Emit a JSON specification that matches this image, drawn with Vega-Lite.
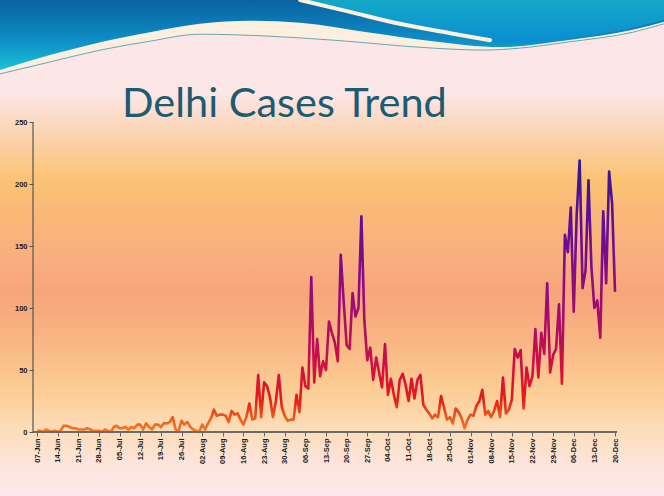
{
  "$schema": "https://vega.github.io/schema/vega-lite/v6.json",
  "width": 664,
  "height": 496,
  "autosize": "none",
  "padding": 0,
  "background": "#fde6ea",
  "config": {
    "view": {
      "stroke": null,
      "fill": {
        "gradient": "linear", "x1": 0, "y1": 0, "x2": 0, "y2": 1,
        "stops": [
          {"offset": 0, "color": "#fde6ea"},
          {"offset": 0.19, "color": "#fce6e6"},
          {"offset": 0.26, "color": "#fbd6b8"},
          {"offset": 0.36, "color": "#fbc374"},
          {"offset": 0.43, "color": "#fab878"},
          {"offset": 0.53, "color": "#f9ad80"},
          {"offset": 0.59, "color": "#f7a57a"},
          {"offset": 0.69, "color": "#f9b684"},
          {"offset": 0.79, "color": "#fcce96"},
          {"offset": 0.86, "color": "#fcdcb6"},
          {"offset": 0.93, "color": "#fde4da"},
          {"offset": 1, "color": "#fde8ee"}
        ]
      }
    },
    "axis": {"labelOverlap": false}
  },
  "title": {
    "text": "Delhi Cases Trend",
    "anchor": "start",
    "frame": "group",
    "orient": "top",
    "offset": 0,
    "dx": 122,
    "dy": 166,
    "baseline": "alphabetic",
    "font": "Lato",
    "fontSize": 41.5,
    "fontWeight": "normal",
    "color": "#1b5c73"
  },
  "datasets": {
    "wave": [
      {"part": "C", "sx": 0, "sy": 14.9},
      {"part": "C", "sx": 7.5, "sy": 12.5},
      {"part": "C", "sx": 15.1, "sy": 10.1},
      {"part": "C", "sx": 22.6, "sy": 8.3},
      {"part": "C", "sx": 30.1, "sy": 6.9},
      {"part": "C", "sx": 40.7, "sy": 7.3},
      {"part": "C", "sx": 50.2, "sy": 8.1},
      {"part": "C", "sx": 65.2, "sy": 9.7},
      {"part": "C", "sx": 72.7, "sy": 10.1},
      {"part": "C", "sx": 78.3, "sy": 9.7},
      {"part": "C", "sx": 85.4, "sy": 8.5},
      {"part": "C", "sx": 95.3, "sy": 6.5},
      {"part": "C", "sx": 100, "sy": 4.8},
      {"part": "L", "sx": 0, "sy": 14.1},
      {"part": "L", "sx": 7.5, "sy": 11.1},
      {"part": "L", "sx": 15.1, "sy": 8.5},
      {"part": "L", "sx": 22.6, "sy": 6.5},
      {"part": "L", "sx": 30.1, "sy": 4.8},
      {"part": "L", "sx": 37.7, "sy": 4.2},
      {"part": "L", "sx": 45.2, "sy": 4.6},
      {"part": "L", "sx": 55.3, "sy": 6.5},
      {"part": "L", "sx": 65.2, "sy": 8.3},
      {"part": "L", "sx": 75.3, "sy": 9.5},
      {"part": "L", "sx": 85.4, "sy": 8.1},
      {"part": "L", "sx": 95.3, "sy": 6.0},
      {"part": "L", "sx": 100, "sy": 4.4},
      {"part": "R", "sx": 45.2, "sy": 0},
      {"part": "R", "sx": 52.7, "sy": 2.4},
      {"part": "R", "sx": 60.2, "sy": 4.8},
      {"part": "R", "sx": 67.8, "sy": 6.7},
      {"part": "R", "sx": 73.8, "sy": 8.1},
      {"part": "R", "sx": 79.8, "sy": 8.5},
      {"part": "R", "sx": 85.4, "sy": 7.7},
      {"part": "R", "sx": 95.3, "sy": 5.6},
      {"part": "R", "sx": 100, "sy": 4.0},
      {"part": "S", "sx": 45.2, "sy": 0},
      {"part": "S", "sx": 52.7, "sy": 2.4},
      {"part": "S", "sx": 60.2, "sy": 4.8},
      {"part": "S", "sx": 67.8, "sy": 6.7},
      {"part": "S", "sx": 73.8, "sy": 8.1}
    ],
    "cases": [
      {"date": "2020-06-07", "cases": 1}, {"date": "2020-06-08", "cases": 1}, {"date": "2020-06-09", "cases": 0},
      {"date": "2020-06-10", "cases": 2}, {"date": "2020-06-11", "cases": 1}, {"date": "2020-06-12", "cases": 0},
      {"date": "2020-06-13", "cases": 1}, {"date": "2020-06-14", "cases": 0}, {"date": "2020-06-15", "cases": 1},
      {"date": "2020-06-16", "cases": 5}, {"date": "2020-06-17", "cases": 5}, {"date": "2020-06-18", "cases": 4},
      {"date": "2020-06-19", "cases": 3}, {"date": "2020-06-20", "cases": 3}, {"date": "2020-06-21", "cases": 2},
      {"date": "2020-06-22", "cases": 2}, {"date": "2020-06-23", "cases": 2}, {"date": "2020-06-24", "cases": 3},
      {"date": "2020-06-25", "cases": 2}, {"date": "2020-06-26", "cases": 1}, {"date": "2020-06-27", "cases": 1},
      {"date": "2020-06-28", "cases": 1}, {"date": "2020-06-29", "cases": 0}, {"date": "2020-06-30", "cases": 2},
      {"date": "2020-07-01", "cases": 1}, {"date": "2020-07-02", "cases": 0}, {"date": "2020-07-03", "cases": 4},
      {"date": "2020-07-04", "cases": 5}, {"date": "2020-07-05", "cases": 3}, {"date": "2020-07-06", "cases": 3},
      {"date": "2020-07-07", "cases": 4}, {"date": "2020-07-08", "cases": 2}, {"date": "2020-07-09", "cases": 4},
      {"date": "2020-07-10", "cases": 3}, {"date": "2020-07-11", "cases": 6}, {"date": "2020-07-12", "cases": 6},
      {"date": "2020-07-13", "cases": 2}, {"date": "2020-07-14", "cases": 7}, {"date": "2020-07-15", "cases": 4},
      {"date": "2020-07-16", "cases": 2}, {"date": "2020-07-17", "cases": 6}, {"date": "2020-07-18", "cases": 6},
      {"date": "2020-07-19", "cases": 4}, {"date": "2020-07-20", "cases": 7}, {"date": "2020-07-21", "cases": 7},
      {"date": "2020-07-22", "cases": 8}, {"date": "2020-07-23", "cases": 12}, {"date": "2020-07-24", "cases": 2},
      {"date": "2020-07-25", "cases": 1}, {"date": "2020-07-26", "cases": 9}, {"date": "2020-07-27", "cases": 6},
      {"date": "2020-07-28", "cases": 8}, {"date": "2020-07-29", "cases": 4}, {"date": "2020-07-30", "cases": 2},
      {"date": "2020-07-31", "cases": 1},
      {"date": "2020-08-01", "cases": 0}, {"date": "2020-08-02", "cases": 6}, {"date": "2020-08-03", "cases": 2},
      {"date": "2020-08-04", "cases": 7}, {"date": "2020-08-05", "cases": 11}, {"date": "2020-08-06", "cases": 18},
      {"date": "2020-08-07", "cases": 13}, {"date": "2020-08-08", "cases": 14}, {"date": "2020-08-09", "cases": 14},
      {"date": "2020-08-10", "cases": 13}, {"date": "2020-08-11", "cases": 8}, {"date": "2020-08-12", "cases": 17},
      {"date": "2020-08-13", "cases": 14}, {"date": "2020-08-14", "cases": 15}, {"date": "2020-08-15", "cases": 10},
      {"date": "2020-08-16", "cases": 6}, {"date": "2020-08-17", "cases": 12}, {"date": "2020-08-18", "cases": 23},
      {"date": "2020-08-19", "cases": 10}, {"date": "2020-08-20", "cases": 11}, {"date": "2020-08-21", "cases": 46},
      {"date": "2020-08-22", "cases": 12}, {"date": "2020-08-23", "cases": 40}, {"date": "2020-08-24", "cases": 37},
      {"date": "2020-08-25", "cases": 28}, {"date": "2020-08-26", "cases": 12}, {"date": "2020-08-27", "cases": 25},
      {"date": "2020-08-28", "cases": 46}, {"date": "2020-08-29", "cases": 20}, {"date": "2020-08-30", "cases": 13},
      {"date": "2020-08-31", "cases": 9},
      {"date": "2020-09-01", "cases": 10}, {"date": "2020-09-02", "cases": 10}, {"date": "2020-09-03", "cases": 30},
      {"date": "2020-09-04", "cases": 16}, {"date": "2020-09-05", "cases": 52}, {"date": "2020-09-06", "cases": 37},
      {"date": "2020-09-07", "cases": 35}, {"date": "2020-09-08", "cases": 125}, {"date": "2020-09-09", "cases": 40},
      {"date": "2020-09-10", "cases": 75}, {"date": "2020-09-11", "cases": 45}, {"date": "2020-09-12", "cases": 57},
      {"date": "2020-09-13", "cases": 50}, {"date": "2020-09-14", "cases": 89}, {"date": "2020-09-15", "cases": 80},
      {"date": "2020-09-16", "cases": 72}, {"date": "2020-09-17", "cases": 57}, {"date": "2020-09-18", "cases": 143},
      {"date": "2020-09-19", "cases": 105}, {"date": "2020-09-20", "cases": 70}, {"date": "2020-09-21", "cases": 67},
      {"date": "2020-09-22", "cases": 112}, {"date": "2020-09-23", "cases": 93}, {"date": "2020-09-24", "cases": 100},
      {"date": "2020-09-25", "cases": 174}, {"date": "2020-09-26", "cases": 90}, {"date": "2020-09-27", "cases": 58},
      {"date": "2020-09-28", "cases": 68}, {"date": "2020-09-29", "cases": 42}, {"date": "2020-09-30", "cases": 60},
      {"date": "2020-10-01", "cases": 48}, {"date": "2020-10-02", "cases": 36}, {"date": "2020-10-03", "cases": 71},
      {"date": "2020-10-04", "cases": 30}, {"date": "2020-10-05", "cases": 43}, {"date": "2020-10-06", "cases": 30},
      {"date": "2020-10-07", "cases": 20}, {"date": "2020-10-08", "cases": 42}, {"date": "2020-10-09", "cases": 47},
      {"date": "2020-10-10", "cases": 38}, {"date": "2020-10-11", "cases": 25}, {"date": "2020-10-12", "cases": 43},
      {"date": "2020-10-13", "cases": 27}, {"date": "2020-10-14", "cases": 42}, {"date": "2020-10-15", "cases": 46},
      {"date": "2020-10-16", "cases": 22}, {"date": "2020-10-17", "cases": 18}, {"date": "2020-10-18", "cases": 15},
      {"date": "2020-10-19", "cases": 11}, {"date": "2020-10-20", "cases": 14}, {"date": "2020-10-21", "cases": 12},
      {"date": "2020-10-22", "cases": 29}, {"date": "2020-10-23", "cases": 20}, {"date": "2020-10-24", "cases": 10},
      {"date": "2020-10-25", "cases": 12}, {"date": "2020-10-26", "cases": 7}, {"date": "2020-10-27", "cases": 19},
      {"date": "2020-10-28", "cases": 16}, {"date": "2020-10-29", "cases": 11}, {"date": "2020-10-30", "cases": 3},
      {"date": "2020-10-31", "cases": 10},
      {"date": "2020-11-01", "cases": 14}, {"date": "2020-11-02", "cases": 13}, {"date": "2020-11-03", "cases": 21},
      {"date": "2020-11-04", "cases": 25}, {"date": "2020-11-05", "cases": 34}, {"date": "2020-11-06", "cases": 14},
      {"date": "2020-11-07", "cases": 17}, {"date": "2020-11-08", "cases": 12}, {"date": "2020-11-09", "cases": 17},
      {"date": "2020-11-10", "cases": 25}, {"date": "2020-11-11", "cases": 12}, {"date": "2020-11-12", "cases": 44},
      {"date": "2020-11-13", "cases": 15}, {"date": "2020-11-14", "cases": 18}, {"date": "2020-11-15", "cases": 26},
      {"date": "2020-11-16", "cases": 67}, {"date": "2020-11-17", "cases": 60}, {"date": "2020-11-18", "cases": 66},
      {"date": "2020-11-19", "cases": 19}, {"date": "2020-11-20", "cases": 52}, {"date": "2020-11-21", "cases": 37},
      {"date": "2020-11-22", "cases": 45}, {"date": "2020-11-23", "cases": 83}, {"date": "2020-11-24", "cases": 44},
      {"date": "2020-11-25", "cases": 80}, {"date": "2020-11-26", "cases": 63}, {"date": "2020-11-27", "cases": 120},
      {"date": "2020-11-28", "cases": 48}, {"date": "2020-11-29", "cases": 62}, {"date": "2020-11-30", "cases": 67},
      {"date": "2020-12-01", "cases": 103}, {"date": "2020-12-02", "cases": 39}, {"date": "2020-12-03", "cases": 159},
      {"date": "2020-12-04", "cases": 145}, {"date": "2020-12-05", "cases": 181}, {"date": "2020-12-06", "cases": 97},
      {"date": "2020-12-07", "cases": 175}, {"date": "2020-12-08", "cases": 219}, {"date": "2020-12-09", "cases": 116},
      {"date": "2020-12-10", "cases": 130}, {"date": "2020-12-11", "cases": 203}, {"date": "2020-12-12", "cases": 133},
      {"date": "2020-12-13", "cases": 100}, {"date": "2020-12-14", "cases": 106}, {"date": "2020-12-15", "cases": 76},
      {"date": "2020-12-16", "cases": 178}, {"date": "2020-12-17", "cases": 120}, {"date": "2020-12-18", "cases": 210},
      {"date": "2020-12-19", "cases": 185}, {"date": "2020-12-20", "cases": 113}
    ]
  },
  "layer": [
    {
      "data": {"name": "wave"},
      "layer": [
        {
          "transform": [{"filter": "datum.part === 'C'"}],
          "mark": {"type": "area", "interpolate": "monotone", "fill": "#fcefe0"},
          "encoding": {
            "x": {"field": "sx", "type": "quantitative", "scale": {"domain": [0, 100], "nice": false, "zero": false}, "axis": null},
            "y": {"field": "sy", "type": "quantitative", "stack": null, "scale": {"domain": [0, 100], "reverse": true, "nice": false, "zero": false}, "axis": null},
            "y2": {"datum": 0}
          }
        },
        {
          "transform": [{"filter": "datum.part === 'L'"}],
          "mark": {
            "type": "area", "interpolate": "monotone",
            "fill": {"gradient": "linear", "x1": 0, "y1": 0, "x2": 0, "y2": 1,
              "stops": [{"offset": 0, "color": "#0a62a0"}, {"offset": 0.55, "color": "#0d8cc4"}, {"offset": 1, "color": "#1cc0d8"}]}
          },
          "encoding": {
            "x": {"field": "sx", "type": "quantitative", "axis": null},
            "y": {"field": "sy", "type": "quantitative", "stack": null, "axis": null},
            "y2": {"datum": 0}
          }
        },
        {
          "transform": [{"filter": "datum.part === 'R'"}],
          "mark": {
            "type": "area", "interpolate": "monotone",
            "fill": {"gradient": "linear", "x1": 0, "y1": 0, "x2": 0, "y2": 1,
              "stops": [{"offset": 0, "color": "#14a8c6"}, {"offset": 1, "color": "#0a8ed2"}]}
          },
          "encoding": {
            "x": {"field": "sx", "type": "quantitative", "axis": null},
            "y": {"field": "sy", "type": "quantitative", "stack": null, "axis": null},
            "y2": {"datum": 0}
          }
        },
        {
          "transform": [{"filter": "datum.part === 'C'"}],
          "mark": {"type": "line", "interpolate": "monotone", "stroke": "#4e9aa6", "strokeWidth": 1, "opacity": 0.85},
          "encoding": {
            "x": {"field": "sx", "type": "quantitative", "axis": null},
            "y": {"field": "sy", "type": "quantitative", "axis": null}
          }
        },
        {
          "transform": [{"filter": "datum.part === 'S'"}],
          "mark": {"type": "line", "interpolate": "monotone", "stroke": "#fdf1dc", "strokeWidth": 4, "strokeCap": "round"},
          "encoding": {
            "x": {"field": "sx", "type": "quantitative", "axis": null},
            "y": {"field": "sy", "type": "quantitative", "axis": null}
          }
        }
      ]
    },
    {
      "data": {"name": "cases"},
      "layer": [
        {
          "mark": {
            "type": "line", "strokeWidth": 2.6, "strokeJoin": "round",
            "stroke": {"gradient": "linear", "x1": 0, "y1": 1, "x2": 0, "y2": 0,
              "stops": [
                {"offset": 0, "color": "#f47a22"},
                {"offset": 0.05, "color": "#f05a1c"},
                {"offset": 0.12, "color": "#e81a18"},
                {"offset": 0.22, "color": "#d8103a"},
                {"offset": 0.35, "color": "#b80c5c"},
                {"offset": 0.55, "color": "#8c0c80"},
                {"offset": 0.78, "color": "#5e0e98"},
                {"offset": 1, "color": "#321a8c"}
              ]}
          },
          "encoding": {
            "x": {
              "field": "date", "type": "temporal",
              "scale": {"type": "utc", "domain": [
                {"year": 2020, "month": 5, "date": 25, "hours": 10, "minutes": 52, "utc": true},
                {"year": 2021, "month": 1, "date": 5, "hours": 14, "minutes": 38, "utc": true}
              ]},
              "axis": {
                "orient": "bottom", "offset": -64, "title": null, "domain": false, "grid": false,
                "tickCount": 60,
                "values": [
                  {"year": 2020, "month": 6, "date": 7, "utc": true},
                  {"year": 2020, "month": 6, "date": 14, "utc": true},
                  {"year": 2020, "month": 6, "date": 21, "utc": true},
                  {"year": 2020, "month": 6, "date": 28, "utc": true},
                  {"year": 2020, "month": 7, "date": 5, "utc": true},
                  {"year": 2020, "month": 7, "date": 12, "utc": true},
                  {"year": 2020, "month": 7, "date": 19, "utc": true},
                  {"year": 2020, "month": 7, "date": 26, "utc": true},
                  {"year": 2020, "month": 8, "date": 2, "utc": true},
                  {"year": 2020, "month": 8, "date": 9, "utc": true},
                  {"year": 2020, "month": 8, "date": 16, "utc": true},
                  {"year": 2020, "month": 8, "date": 23, "utc": true},
                  {"year": 2020, "month": 8, "date": 30, "utc": true},
                  {"year": 2020, "month": 9, "date": 6, "utc": true},
                  {"year": 2020, "month": 9, "date": 13, "utc": true},
                  {"year": 2020, "month": 9, "date": 20, "utc": true},
                  {"year": 2020, "month": 9, "date": 27, "utc": true},
                  {"year": 2020, "month": 10, "date": 4, "utc": true},
                  {"year": 2020, "month": 10, "date": 11, "utc": true},
                  {"year": 2020, "month": 10, "date": 18, "utc": true},
                  {"year": 2020, "month": 10, "date": 25, "utc": true},
                  {"year": 2020, "month": 11, "date": 1, "utc": true},
                  {"year": 2020, "month": 11, "date": 8, "utc": true},
                  {"year": 2020, "month": 11, "date": 15, "utc": true},
                  {"year": 2020, "month": 11, "date": 22, "utc": true},
                  {"year": 2020, "month": 11, "date": 29, "utc": true},
                  {"year": 2020, "month": 12, "date": 6, "utc": true},
                  {"year": 2020, "month": 12, "date": 13, "utc": true},
                  {"year": 2020, "month": 12, "date": 20, "utc": true}
                ],
                "format": "%d-%b", "labelAngle": -90, "labelOverlap": false, "labelFlush": false, "labelBound": false,
                "tickSize": 4, "tickColor": "#666666", "tickWidth": 1,
                "labelFont": "Liberation Sans", "labelFontSize": 7.5, "labelFontWeight": "bold", "labelColor": "#1a1a1a", "labelPadding": 2
              }
            },
            "y": {
              "field": "cases", "type": "quantitative",
              "scale": {"domain": [-51.6, 348.4], "nice": false, "zero": false},
              "axis": {
                "orient": "left", "offset": -33, "title": null, "domain": false, "grid": false,
                "values": [0, 50, 100, 150, 200, 250], "tickCount": 20,
                "tickSize": 4, "tickColor": "#555555", "tickWidth": 1,
                "labelFont": "Liberation Sans", "labelFontSize": 7.5, "labelFontWeight": "bold", "labelColor": "#1a1a1a", "labelPadding": 2
              }
            }
          }
        },
        {
          "data": {"values": [{}]},
          "mark": {"type": "rule", "stroke": "#555555", "strokeWidth": 1.2},
          "encoding": {
            "x": {"datum": {"year": 2020, "month": 6, "date": 5, "hours": 15, "minutes": 30, "utc": true}, "type": "temporal"},
            "y": {"datum": 0, "type": "quantitative"},
            "y2": {"datum": 250}
          }
        },
        {
          "data": {"values": [{}]},
          "mark": {"type": "rule", "stroke": "#6b6b6b", "strokeWidth": 2},
          "encoding": {
            "x": {"datum": {"year": 2020, "month": 6, "date": 5, "hours": 15, "minutes": 30, "utc": true}, "type": "temporal"},
            "x2": {"datum": {"year": 2020, "month": 12, "date": 20, "hours": 17, "utc": true}},
            "y": {"datum": 0, "type": "quantitative"}
          }
        }
      ]
    }
  ],
  "resolve": {"scale": {"x": "independent", "y": "independent"}}
}
